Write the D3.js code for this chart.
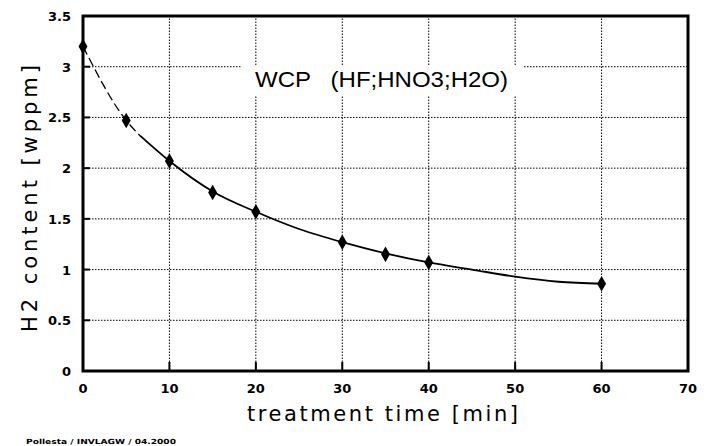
<!DOCTYPE html>
<html>
<head>
<meta charset="utf-8">
<script src="https://cdn.jsdelivr.net/npm/d3@7"></script>
<style>
  body { margin: 0; background: #fff; }
  svg { display: block; }
  .tick-label { font-family: "DejaVu Sans", sans-serif; font-weight: bold; font-size: 13px; }
</style>
</head>
<body>
<svg id="chart" width="707" height="446"></svg>
<script>
// measured points (markers)
const timeMin = [0, 5, 10, 15, 20, 30, 35, 40, 60];
const h2Content = [3.2, 2.47, 2.07, 1.76, 1.57, 1.27, 1.15, 1.07, 0.86];

// fitted curve
const fitTime = [0, 5, 6.6, 10, 15, 20, 25, 30, 35, 40, 45, 50, 55, 60];
const fitValue = [3.2, 2.47, 2.32, 2.07, 1.77, 1.57, 1.4, 1.27, 1.16, 1.07, 1.0, 0.93, 0.88, 0.86];
const dashedUntil = 6.6;

const xTicks = [0, 10, 20, 30, 40, 50, 60, 70];
const xTickLabels = ["0", "10", "20", "30", "40", "50", "60", "70"];
const yTicks = [0, 0.5, 1, 1.5, 2, 2.5, 3, 3.5];
const yTickLabels = ["0", "0.5", "1", "1.5", "2", "2.5", "3", "3.5"];

let chart = d3.select("#chart");

let x = d3.scaleLinear().domain([0, 70]).range([83, 688]);
let y = d3.scaleLinear().domain([0, 3.5]).range([371, 16]);

// grid
let grid = chart.append("g")
    .attr("stroke", "#000")
    .attr("stroke-width", 1)
    .attr("stroke-dasharray", "1.5,1.5");

grid.selectAll(".vgrid")
    .data(xTicks.slice(1, -1))
    .enter()
    .append("line")
    .attr("x1", d => x(d)).attr("x2", d => x(d))
    .attr("y1", y(0)).attr("y2", y(3.5));

grid.selectAll(".hgrid")
    .data(yTicks.slice(1, -1))
    .enter()
    .append("line")
    .attr("x1", x(0)).attr("x2", x(70))
    .attr("y1", d => y(d)).attr("y2", d => y(d));

// inward tick marks
let ticks = chart.append("g").attr("stroke", "#000").attr("stroke-width", 2);
ticks.selectAll(".xt")
    .data(xTicks.slice(1, -1))
    .enter()
    .append("line")
    .attr("x1", d => x(d)).attr("x2", d => x(d))
    .attr("y1", y(0)).attr("y2", y(0) - 9);
ticks.selectAll(".yt")
    .data(yTicks.slice(1, -1))
    .enter()
    .append("line")
    .attr("x1", x(0)).attr("x2", x(0) + 7)
    .attr("y1", d => y(d)).attr("y2", d => y(d));

// title box (covers grid)
chart.append("rect")
    .attr("x", 242).attr("y", 66)
    .attr("width", 282).attr("height", 29)
    .attr("fill", "#fff");

chart.append("text")
    .attr("x", 255).attr("y", 87)
    .attr("font-family", "Liberation Sans, Arial, sans-serif")
    .attr("font-size", 22)
    .attr("textLength", 253)
    .attr("lengthAdjust", "spacingAndGlyphs")
    .style("white-space", "pre")
    .text("WCP   (HF;HNO3;H2O)");

// frame
chart.append("rect")
    .attr("x", x(0)).attr("y", y(3.5))
    .attr("width", x(70) - x(0)).attr("height", y(0) - y(3.5))
    .attr("fill", "none")
    .attr("stroke", "#000")
    .attr("stroke-width", 3);

// fitted curve: dashed first part, solid rest
let line = d3.line()
    .x(d => x(d[0]))
    .y(d => y(d[1]))
    .curve(d3.curveMonotoneX);

let fit = fitTime.map((t, i) => [t, fitValue[i]]);
let dashedPart = fit.filter(d => d[0] <= dashedUntil);
let solidPart = fit.filter(d => d[0] >= dashedUntil);

chart.append("path")
    .datum(dashedPart)
    .attr("fill", "none")
    .attr("stroke", "#000")
    .attr("stroke-width", 1.3)
    .attr("stroke-dasharray", "9,4")
    .attr("d", line);

chart.append("path")
    .datum(solidPart)
    .attr("fill", "none")
    .attr("stroke", "#000")
    .attr("stroke-width", 1.8)
    .attr("d", line);

// markers
chart.selectAll(".pt")
    .data(timeMin.map((t, i) => [t, h2Content[i]]))
    .enter()
    .append("path")
    .attr("transform", d => "translate(" + x(d[0]) + "," + y(d[1]) + ")")
    .attr("d", d3.symbol().type(d3.symbolDiamond).size(70))
    .attr("fill", "#000");

// tick labels
chart.selectAll(".xl")
    .data(xTicks)
    .enter()
    .append("text")
    .attr("class", "tick-label")
    .attr("x", d => x(d))
    .attr("y", 393)
    .attr("text-anchor", "middle")
    .text((d, i) => xTickLabels[i]);

chart.selectAll(".yl")
    .data(yTicks)
    .enter()
    .append("text")
    .attr("class", "tick-label")
    .attr("x", 71)
    .attr("y", d => y(d) + 5)
    .attr("text-anchor", "end")
    .text((d, i) => yTickLabels[i]);

// axis titles
chart.append("text")
    .attr("x", 247).attr("y", 421)
    .attr("font-family", "DejaVu Sans, sans-serif")
    .attr("font-size", 21)
    .attr("textLength", 271)
    .attr("lengthAdjust", "spacing")
    .text("treatment time [min]");

chart.append("text")
    .attr("transform", "translate(37,332) rotate(-90)")
    .attr("font-family", "DejaVu Sans, sans-serif")
    .attr("font-size", 21)
    .attr("textLength", 267)
    .attr("lengthAdjust", "spacing")
    .text("H2 content [wppm]");

// scanned stamp at bottom left
chart.append("text")
    .attr("x", 26).attr("y", 444)
    .attr("font-family", "DejaVu Sans, sans-serif")
    .attr("font-weight", "bold")
    .attr("font-size", 7)
    .attr("textLength", 150)
    .attr("lengthAdjust", "spacingAndGlyphs")
    .text("Pollesta / INVLAGW / 04.2000");
</script>
</body>
</html>
